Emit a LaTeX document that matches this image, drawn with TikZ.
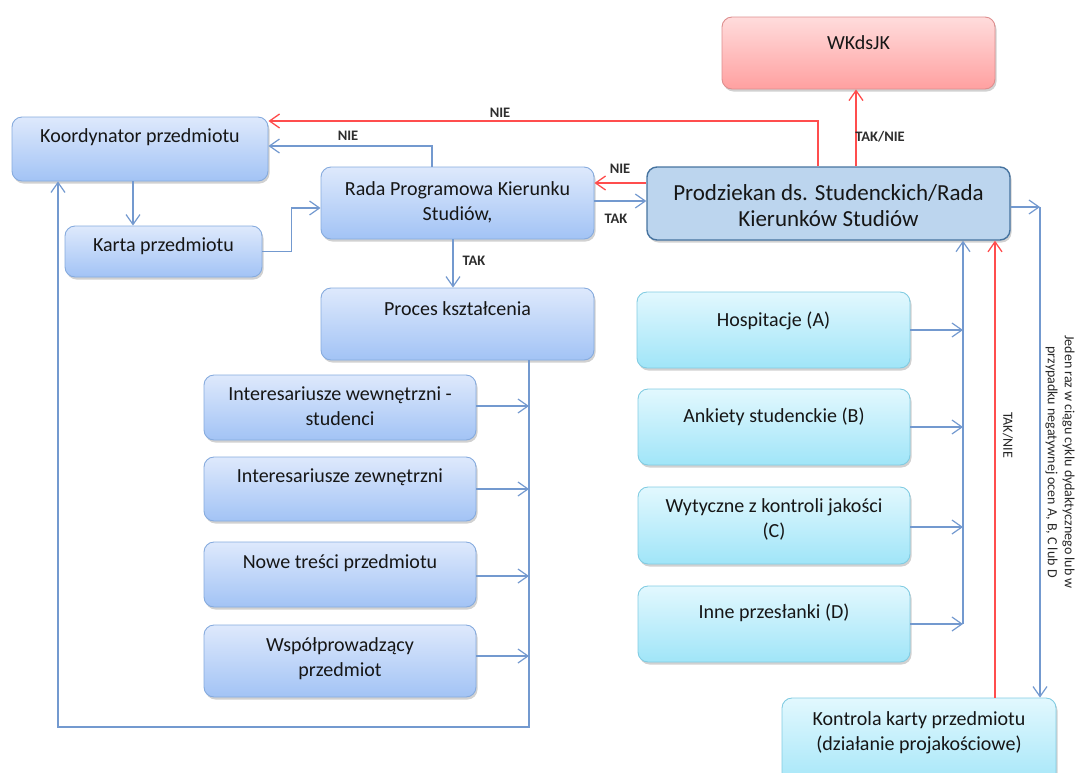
\documentclass[tikz,border=0pt]{standalone}
\usepackage{fontspec}
\setmainfont{Carlito}
\usetikzlibrary{arrows.meta,shadows}
\definecolor{bTop}{HTML}{DEE9FC}
\definecolor{bBot}{HTML}{A2C3F5}
\definecolor{bBrd}{HTML}{86ABDE}
\definecolor{cTop}{HTML}{E2F8FE}
\definecolor{cBot}{HTML}{A0E5F8}
\definecolor{cBrd}{HTML}{82CCE2}
\definecolor{rTop}{HTML}{FFDCDC}
\definecolor{rBot}{HTML}{FFA0A0}
\definecolor{rBrd}{HTML}{DE8E8E}
\definecolor{pFill}{HTML}{BCD5EE}
\definecolor{pBrd}{HTML}{46739F}
\definecolor{lnB}{HTML}{7399CF}
\definecolor{lnR}{HTML}{FF4D4D}
\definecolor{txtc}{HTML}{161616}
\tikzset{
  x=1pt,y=-1pt,
  basebox/.style={rounded corners=10pt, line width=0.9pt, inner sep=0pt,
    drop shadow={shadow xshift=1.5pt, shadow yshift=-2.5pt, opacity=0.3, fill=black!60}},
  bluebox/.style={basebox, draw=bBrd, top color=bTop, bottom color=bBot},
  cyanbox/.style={basebox, draw=cBrd, top color=cTop, bottom color=cBot},
  redbox/.style={basebox, draw=rBrd, top color=rTop, bottom color=rBot},
  prodbox/.style={basebox, draw=pBrd, line width=1.4pt, fill=pFill},
  txt/.style={text=txtc, align=center, inner sep=0pt, font=\fontsize{20}{25}\selectfont},
  bigtxt/.style={text=txtc, align=center, inner sep=0pt, font=\fontsize{23}{25.5}\selectfont},
  lab/.style={text=black!82, inner sep=0pt, font=\fontsize{14.5}{16}\selectfont\bfseries},
  bl/.style={draw=lnB, line width=1.2pt, -{Straight Barb[length=10pt,width=14pt]}},
  rd/.style={draw=lnR, line width=1.3pt, -{Straight Barb[length=10pt,width=14pt]}},
}
\newcommand\mkbox[6]{\node[#2, minimum width={(#5-#3)*1pt}, minimum height={(#6-#4)*1pt}] (#1) at ({(#3+#5)/2},{(#4+#6)/2}) {};}
\begin{document}
\begin{tikzpicture}
\useasboundingbox (0,0) rectangle (1080,772);
% boxes
\mkbox{koord}{bluebox}{12}{117}{268}{181}
\mkbox{karta}{bluebox}{65}{226}{262}{277}
\mkbox{rada}{bluebox}{321}{167}{594}{239}
\mkbox{wk}{redbox}{722}{17}{995}{89}
\mkbox{prodz}{prodbox}{647}{167}{1010}{240}
\mkbox{proces}{bluebox}{321}{288}{594}{360}
\mkbox{iw}{bluebox}{204}{375}{476}{440}
\mkbox{iz}{bluebox}{204}{457}{476}{521}
\mkbox{nt}{bluebox}{204}{542}{476}{607}
\mkbox{wsp}{bluebox}{204}{625}{476}{697}
\mkbox{hosp}{cyanbox}{637}{292}{910}{368}
\mkbox{ank}{cyanbox}{638}{389}{910}{465}
\mkbox{wyt}{cyanbox}{638}{487}{910}{564}
\mkbox{inne}{cyanbox}{638}{586}{910}{662}
\mkbox{kon}{cyanbox}{782}{698}{1056}{792}
% texts
\node[txt] (tkoord) at (140,137) {Koordynator przedmiotu};
\node[txt] (tkarta) at (163.5,246) {Karta przedmiotu};
\node[txt] (trada) at (457.5,202.5) {Rada Programowa Kierunku\\Studiów,};
\node[txt] (twk) at (858.5,43) {WKdsJK};
\node[bigtxt] (tprodz) at (828.5,205.5) {Prodziekan ds. Studenckich/Rada\\Kierunków Studiów};
\node[txt] (tproces) at (457.5,309) {Proces kształcenia};
\node[txt] (tiw) at (340,406) {Interesariusze wewnętrzni -\\studenci};
\node[txt] (tiz) at (340,477) {Interesariusze zewnętrzni};
\node[txt] (tnt) at (340,563) {Nowe treści przedmiotu};
\node[txt] (twsp) at (340,658.5) {Współprowadzący\\przedmiot};
\node[txt] (thosp) at (773.5,321) {Hospitacje (A)};
\node[txt] (tank) at (774,417) {Ankiety studenckie (B)};
\node[txt] (twyt) at (774,519) {Wytyczne z kontroli jakości\\(C)};
\node[txt] (tinne) at (774,613) {Inne przesłanki (D)};
\node[txt] (tkon) at (919,732.5) {Kontrola karty przedmiotu\\(działanie projakościowe)};
% helper coordinates
\coordinate (busL) at (529,0);
\coordinate (busR) at (963,0);
\coordinate (redx) at (995,0);
\coordinate (lpR) at (529,727);
\coordinate (lpL) at (58,727);
\coordinate (corner) at (1040,207);
% connectors
\draw[bl] ([xshift=-7pt]koord.south) -- ([xshift=-30.5pt]karta.north);
\draw[bl] (karta.east) -- ++(29,0) |- ([yshift=-5pt]rada.west);
\draw[bl] ([xshift=-25.5pt]rada.north) |- ([yshift=3pt]koord.east);
\draw[rd] ([xshift=-10.5pt]prodz.north) |- ([yshift=28pt]koord.east);
\draw[rd] ([xshift=27.5pt]prodz.north) -- ([xshift=-2.5pt]wk.south);
\draw[rd] ([yshift=20.5pt]prodz.west) -- ([yshift=20pt]rada.east);
\draw[bl] ([yshift=2pt]rada.east) -- ([yshift=2.5pt]prodz.west);
\draw[bl] ([xshift=-4.5pt]rada.south) -- ([xshift=-4.5pt]proces.north);
\draw[bl] ([xshift=71.5pt]proces.south) -- (lpR) -- (lpL) -- ([xshift=-82pt]koord.south);
\draw[bl] ([yshift=1.5pt]iw.east) -- ([yshift=1.5pt]iw.east -| busL);
\draw[bl] (iz.east) -- (iz.east -| busL);
\draw[bl] ([yshift=-1.5pt]nt.east) -- ([yshift=-1.5pt]nt.east -| busL);
\draw[bl] ([yshift=5pt]wsp.east) -- ([yshift=5pt]wsp.east -| busL);
\draw[bl] (hosp.east) -- (hosp.east -| busR);
\draw[bl] (ank.east) -- (ank.east -| busR);
\draw[bl] ([yshift=-1.5pt]wyt.east) -- ([yshift=-1.5pt]wyt.east -| busR);
\draw[bl] (inne.east) -- (inne.east -| busR);
\draw[bl] (inne.east -| busR) -- (prodz.south -| busR);
\draw[rd] (kon.north -| redx) -- (prodz.south -| redx);
\draw[bl] ([yshift=-3.5pt]prodz.east) -- (corner);
\draw[bl] (corner) -- (kon.north -| corner);
% labels
\node[lab] (lnie1) at (500,113) {NIE};
\node[lab] (lnie2) at (348,136) {NIE};
\node[lab] (lnie3) at (620,169) {NIE};
\node[lab] (ltak1) at (616,219) {TAK};
\node[lab] (ltak2) at (474,261) {TAK};
\node[lab] (ltn1) at (880,137) {TAK/NIE};
\node[text=black!85, inner sep=0pt, rotate=-90, font=\fontsize{14}{16}\selectfont] (ltn2) at (1008,435) {TAK/NIE};
\node[text=black!85, inner sep=0pt, rotate=-90, align=center, font=\fontsize{14}{17}\selectfont] (lnote) at (1060,462) {Jeden raz w ciągu cyklu dydaktycznego lub w\\przypadku negatywnej ocen A, B, C lub D};
\end{tikzpicture}
\end{document}
